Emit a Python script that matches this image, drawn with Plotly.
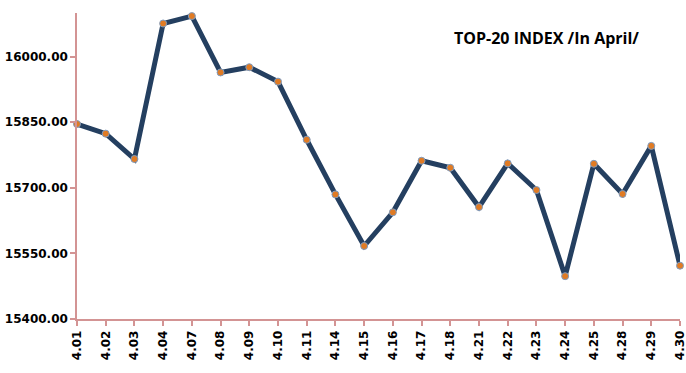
import plotly.graph_objects as go

dates = ["4.01", "4.02", "4.03", "4.04", "4.07", "4.08", "4.09", "4.10", "4.11", "4.14",
         "4.15", "4.16", "4.17", "4.18", "4.21", "4.22", "4.23", "4.24", "4.25", "4.28",
         "4.29", "4.30"]
index_values = [15846, 15824, 15766, 16076, 16093, 15964, 15976, 15943, 15810, 15685,
                15567, 15644, 15762, 15746, 15656, 15756, 15695, 15498, 15755, 15686,
                15796, 15522]
y_ticks = [15400, 15550, 15700, 15850, 16000]
title_text = "TOP-20 INDEX /In April/"

axis_color = "#D39494"

fig = go.Figure()
fig.add_trace(go.Scatter(
    x=dates, y=index_values, mode="lines+markers",
    line=dict(color="#243F60", width=5),
    marker=dict(color="#E07B24", size=7, line=dict(color="#7F9CC0", width=1)),
    cliponaxis=False, showlegend=False,
))

fig.update_layout(
    width=686, height=373,
    margin=dict(l=77, r=6, t=13, b=54),
    paper_bgcolor="white", plot_bgcolor="white",
    font=dict(family="DejaVu Sans", color="black"),
    annotations=[dict(
        text="<b>" + title_text + "</b>", x=0.936, y=0.918, xref="paper", yref="paper",
        xanchor="right", yanchor="middle", showarrow=False,
        font=dict(family="Open Sans", size=16, color="black"),
    )],
)
fig.update_xaxes(
    type="category", range=[0, len(dates) - 1], automargin=False,
    showline=True, linecolor=axis_color, linewidth=1.5,
    ticks="outside", ticklen=5, tickcolor=axis_color, tickwidth=1.5,
    tickangle=-90, showgrid=False, zeroline=False,
    tickfont=dict(family="DejaVu Sans", size=12, color="black", weight="bold"),
)
fig.update_yaxes(
    range=[15400, 16100], tickvals=y_ticks, automargin=False,
    ticktext=[f"{v:.2f}" for v in y_ticks],
    showline=True, linecolor=axis_color, linewidth=1.5,
    ticks="outside", ticklen=5, tickcolor=axis_color, tickwidth=1.5,
    showgrid=False, zeroline=False,
    tickfont=dict(family="DejaVu Sans", size=12, color="black", weight="bold"),
)

fig.write_html(
    "out.html",
    config={"displayModeBar": False},
    post_script="document.body.style.margin='0px';document.body.style.overflow='hidden';",
)
